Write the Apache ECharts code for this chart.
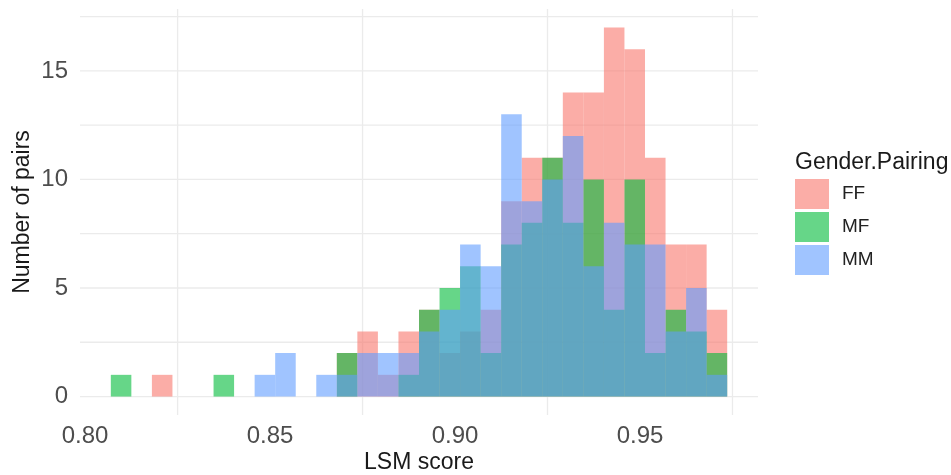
<!DOCTYPE html>
<html>
<head>
<meta charset="utf-8">
<script src="https://cdn.jsdelivr.net/npm/echarts@6/dist/echarts.min.js"></script>
<style>
  html, body { margin: 0; padding: 0; background: #fff; }
  #chart { width: 951px; height: 475px; }
</style>
</head>
<body>
<div id="chart"></div>
<script>
// histogram bins (30 bins, ggplot default)
const binStart = 0.80695
const binWidth = 0.005554

// counts per bin, by gender pairing
const ff = [0, 0, 1, 0, 0, 0, 0, 0, 0, 0, 0, 2, 3, 1, 3, 4, 2, 3, 4, 9, 11, 11, 14, 14, 17, 16, 11, 7, 7, 4]
const mf = [1, 0, 0, 0, 0, 1, 0, 0, 0, 0, 0, 2, 0, 0, 1, 4, 5, 6, 2, 7, 8, 11, 8, 10, 4, 10, 2, 4, 3, 2]
const mm = [0, 0, 0, 0, 0, 0, 0, 1, 2, 0, 1, 1, 2, 2, 2, 3, 4, 7, 6, 13, 9, 10, 12, 6, 8, 7, 7, 3, 5, 1]

const groups = ['FF', 'MF', 'MM']
const colors = ['rgba(248,118,109,0.6)', 'rgba(0,186,56,0.6)', 'rgba(97,156,255,0.6)']

// axis ticks / grid
const xTicks = [0.80, 0.85, 0.90, 0.95]
const xGrid = [0.825, 0.875, 0.925, 0.975]
const yTicks = [0, 5, 10, 15]
const yGrid = [0, 2.5, 5, 7.5, 10, 12.5, 15, 17.5]

const xMin = 0.79862
const xMax = 0.9819
const yMin = -0.85
const yMax = 17.85

const toBins = (counts) =>
  counts.map((c, i) => [binStart + binWidth * i, binStart + binWidth * (i + 1), c])

const histSeries = (name, counts, color) => ({
  name,
  type: 'custom',
  z: 2,
  itemStyle: { color },
  encode: { x: [0, 1], y: 2 },
  data: toBins(counts),
  renderItem: (params, api) => {
    const c = api.value(2)
    if (!c) return null
    const p0 = api.coord([api.value(0), 0])
    const p1 = api.coord([api.value(1), c])
    return {
      type: 'rect',
      shape: { x: p0[0], y: p1[1], width: p1[0] - p0[0], height: p0[1] - p1[1] },
      style: { fill: color }
    }
  }
})

// 网格线 (vertical: x value, horizontal: y value)
const gridSeries = (data, vertical) => ({
  type: 'custom',
  silent: true,
  z: 1,
  data,
  encode: vertical ? { x: 0 } : { y: 0 },
  renderItem: (params, api) => {
    const v = api.value(0)
    const a = vertical ? api.coord([v, yMin]) : api.coord([xMin, v])
    const b = vertical ? api.coord([v, yMax]) : api.coord([xMax, v])
    return {
      type: 'line',
      shape: { x1: a[0], y1: a[1], x2: b[0], y2: b[1] },
      style: { stroke: '#ebebeb', lineWidth: 1.3 }
    }
  }
})

const chart = echarts.init(document.getElementById('chart'))

const font = '"Liberation Sans", Arial, sans-serif'

const option = {
  animation: false,
  textStyle: { fontFamily: font },
  title: {
    text: 'Gender.Pairing',
    left: 795,
    top: 151,
    padding: 0,
    textStyle: { fontFamily: font, fontSize: 23, fontWeight: 'normal', color: '#1a1a1a' }
  },
  legend: {
    orient: 'vertical',
    left: 795,
    top: 179,
    padding: 0,
    itemWidth: 34,
    itemHeight: 30,
    itemGap: 3,
    icon: 'rect',
    data: groups,
    textStyle: { fontFamily: font, fontSize: 19, color: '#222', padding: [0, 0, 0, 8] }
  },
  grid: { left: 80, right: 193, top: 9, bottom: 60, outerBoundsMode: 'none', containLabel: false },
  xAxis: {
    type: 'value',
    min: xMin,
    max: xMax,
    name: 'LSM score',
    nameLocation: 'middle',
    nameGap: 36,
    nameMoveOverlap: false,
    nameTextStyle: { fontFamily: font, fontSize: 23, color: '#1a1a1a' },
    axisLine: { show: false },
    axisTick: { show: false },
    splitLine: { show: false },
    axisLabel: {
      customValues: xTicks,
      formatter: (v) => v.toFixed(2),
      fontSize: 24,
      color: '#4d4d4d',
      margin: 9
    }
  },
  yAxis: {
    type: 'value',
    min: yMin,
    max: yMax,
    name: 'Number of pairs',
    nameLocation: 'middle',
    nameRotate: 90,
    nameGap: 46,
    nameMoveOverlap: false,
    nameTextStyle: { fontFamily: font, fontSize: 23, color: '#1a1a1a' },
    axisLine: { show: false },
    axisTick: { show: false },
    splitLine: { show: false },
    axisLabel: {
      customValues: yTicks,
      fontSize: 24,
      color: '#4d4d4d',
      margin: 12
    }
  },
  series: [
    gridSeries(xGrid, true),
    gridSeries(yGrid, false),
    histSeries('FF', ff, colors[0]),
    histSeries('MF', mf, colors[1]),
    histSeries('MM', mm, colors[2])
  ]
}

chart.setOption(option)
</script>
</body>
</html>
